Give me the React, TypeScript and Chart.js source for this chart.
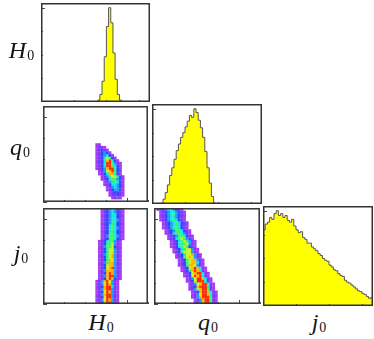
import React, { useEffect, useRef } from "react";
import { Chart, registerables } from "chart.js";

Chart.register(...registerables);

// ---------- data ----------
// 1D histograms (50 bins across each axis), counts relative to peak = 100
const H0_HIST = [
  0, 0, 0, 0, 0, 0, 0, 0, 0, 0, 0, 0, 0, 0, 0, 0, 0, 0, 0, 0, 0, 0, 0, 0, 0, 0,
  2, 8, 22, 48, 80, 100, 84, 52, 24, 8, 2,
  0, 0, 0, 0, 0, 0, 0, 0, 0, 0, 0, 0, 0,
];
const Q0_HIST = [
  0, 0, 0, 0,
  1, 5, 12, 20, 30, 38, 47, 56, 63, 70, 75, 81, 87, 93, 91, 100, 96, 88, 80, 70, 55, 38, 22, 8, 1,
  0, 0, 0, 0, 0, 0, 0, 0, 0, 0, 0, 0, 0, 0, 0, 0, 0, 0, 0, 0, 0,
];
const J0_HIST = [
  80, 86, 88, 93, 91, 97, 100, 95, 97, 93, 95, 90, 88, 91, 84, 80, 77, 78, 72, 70,
  66, 66, 62, 60, 58, 55, 53, 50, 48, 47, 43, 41, 38, 37, 34, 32, 31, 27, 25, 24,
  22, 20, 18, 16, 15, 13, 12, 10, 8, 9,
];

// colour levels of the 2D histograms (low -> high density)
const LEVEL_COLORS = [
  "#a23cf5", "#7838ff", "#3046ff", "#1a9cff", "#18e6e0",
  "#3cf56a", "#c8f51e", "#ffb400", "#ff2a00",
];

// 2D histograms on a 40 x 36 cell grid: [row (top -> bottom), first column, level per cell]
const Q0_VS_H0: [number, number, string][] = [
  [14, 20, "11"],
  [15, 20, "1221"],
  [16, 20, "12321"],
  [17, 20, "123431"],
  [18, 20, "1234531"],
  [19, 20, "12357631"],
  [20, 20, "123589531"],
  [21, 20, "1235996421"],
  [22, 20, "1235996531"],
  [23, 20, "1234899631"],
  [24, 21, "124789631"],
  [25, 21, "123588631"],
  [26, 22, "124677531"],
  [27, 22, "123566421"],
  [28, 23, "12456531"],
  [29, 23, "12355431"],
  [30, 24, "1245431"],
  [31, 24, "1234421"],
  [32, 25, "123321"],
  [33, 25, "122321"],
  [34, 26, "1211"],
];

const J0_VS_H0: [number, number, string][] = [
  [0, 22, "123454321"],
  [1, 22, "123454321"],
  [2, 22, "123455321"],
  [3, 22, "123455321"],
  [4, 22, "123455421"],
  [5, 22, "123465321"],
  [6, 22, "123565321"],
  [7, 22, "123565421"],
  [8, 22, "123565321"],
  [9, 22, "123665321"],
  [10, 22, "124665421"],
  [11, 22, "123666321"],
  [12, 21, "123566421"],
  [13, 21, "123667421"],
  [14, 21, "124667321"],
  [15, 21, "123677421"],
  [16, 21, "123577421"],
  [17, 21, "124678421"],
  [18, 21, "123678421"],
  [19, 21, "123687421"],
  [20, 21, "124688421"],
  [21, 21, "123788421"],
  [22, 21, "123789421"],
  [23, 21, "124888421"],
  [24, 21, "123898421"],
  [25, 21, "124899421"],
  [26, 21, "123898321"],
  [27, 20, "124897421"],
  [28, 20, "124798421"],
  [29, 20, "123899521"],
  [30, 20, "124899421"],
  [31, 20, "123798421"],
  [32, 20, "124899421"],
  [33, 20, "123799421"],
  [34, 20, "124798421"],
  [35, 20, "123899421"],
];

const J0_VS_Q0: [number, number, string][] = [
  [0, 1, "1234554321"],
  [1, 2, "1234554321"],
  [2, 2, "1234564321"],
  [3, 2, "1234554321"],
  [4, 2, "1234565321"],
  [5, 3, "1234565321"],
  [6, 3, "1234565321"],
  [7, 3, "1234665321"],
  [8, 4, "1234665321"],
  [9, 4, "1235665421"],
  [10, 5, "1234666321"],
  [11, 5, "1235676421"],
  [12, 6, "1235676421"],
  [13, 6, "1235667421"],
  [14, 6, "1235676321"],
  [15, 7, "1235677421"],
  [16, 7, "1236777421"],
  [17, 8, "1235778421"],
  [18, 8, "1236787421"],
  [19, 9, "1236788421"],
  [20, 9, "1236788521"],
  [21, 9, "1236887421"],
  [22, 10, "1237898521"],
  [23, 10, "1236898521"],
  [24, 11, "1237899521"],
  [25, 11, "1237989521"],
  [26, 12, "1247998521"],
  [27, 12, "1237999521"],
  [28, 13, "1247899621"],
  [29, 13, "1238999521"],
  [30, 13, "1247899621"],
  [31, 14, "1238998521"],
  [32, 14, "1247998521"],
  [33, 14, "1248999621"],
  [34, 15, "124899621"],
  [35, 15, "124899521"],
];

const GRID_COLS = 40;
const GRID_ROWS = 36;

// ---------- frame + inward ticks (ROOT style) ----------
const framePlugin = {
  id: "rootFrame",
  afterDraw(chart: any) {
    const { ctx, chartArea: a } = chart;
    const xs = chart.scales.x;
    const ys = chart.scales.y;
    ctx.save();
    ctx.strokeStyle = "#4a4a4a";
    ctx.lineWidth = 1;
    ctx.beginPath();
    (xs.ticks || []).forEach((t: any, i: number) => {
      const px = Math.round(xs.getPixelForValue(t.value)) + 0.5;
      const len = i % 4 === 0 ? 4 : 2;
      ctx.moveTo(px, a.bottom);
      ctx.lineTo(px, a.bottom - len);
    });
    (ys.ticks || []).forEach((t: any, i: number) => {
      const py = Math.round(ys.getPixelForValue(t.value)) + 0.5;
      const len = i % 4 === 0 ? 4 : 2;
      ctx.moveTo(a.left, py);
      ctx.lineTo(a.left + len, py);
    });
    ctx.stroke();
    ctx.lineWidth = 1.5;
    ctx.strokeStyle = "#333";
    ctx.strokeRect(a.left + 0.75, a.top + 0.75, a.right - a.left - 1.5, a.bottom - a.top - 1.5);
    ctx.restore();
  },
};

type Box = { left: number; top: number; width: number; height: number };

function Hist1D({ values, left, top, width, height }: Box & { values: number[] }) {
  const ref = useRef<HTMLCanvasElement>(null);
  useEffect(() => {
    const pts = values.map((v, i) => ({ x: i, y: v }));
    pts.push({ x: values.length, y: values[values.length - 1] });
    const chart = new Chart(ref.current!, {
      type: "line",
      data: {
        datasets: [
          {
            data: pts,
            stepped: "before",
            fill: "origin",
            backgroundColor: "#ffff00",
            borderColor: "#555555",
            borderWidth: 1,
            pointRadius: 0,
          } as any,
        ],
      },
      options: {
        animation: false,
        responsive: false,
        events: [],
        layout: { padding: 0 },
        plugins: { legend: { display: false }, tooltip: { enabled: false } },
        scales: {
          x: { type: "linear", display: false, min: 0, max: values.length, ticks: { stepSize: 2.5 } },
          y: { type: "linear", display: false, min: 0, max: 105, ticks: { stepSize: 5 } },
        },
      },
      plugins: [framePlugin],
    });
    return () => chart.destroy();
  }, []);
  return (
    <canvas ref={ref} width={width} height={height} style={{ position: "absolute", left, top, width, height }} />
  );
}

function Hist2D({ rows, left, top, width, height }: Box & { rows: [number, number, string][] }) {
  const ref = useRef<HTMLCanvasElement>(null);
  useEffect(() => {
    const datasets = LEVEL_COLORS.map((c) => ({
      data: [] as { x: number; y: number }[],
      backgroundColor: c,
      pointStyle: "rect",
      pointRadius: 2.05,
      pointHoverRadius: 2.05,
      borderWidth: 0,
    }));
    rows.forEach(([r, c0, s]) => {
      for (let k = 0; k < s.length; k++) {
        const lv = Number(s[k]);
        if (lv > 0) datasets[lv - 1].data.push({ x: c0 + k + 0.5, y: r + 0.5 });
      }
    });
    const chart = new Chart(ref.current!, {
      type: "scatter",
      data: { datasets: datasets as any },
      options: {
        animation: false,
        responsive: false,
        events: [],
        layout: { padding: 0 },
        plugins: { legend: { display: false }, tooltip: { enabled: false } },
        scales: {
          x: { type: "linear", display: false, min: 0, max: GRID_COLS, ticks: { stepSize: 2 } },
          y: { type: "linear", display: false, reverse: true, min: 0, max: GRID_ROWS, ticks: { stepSize: 2 } },
        },
      },
      plugins: [framePlugin],
    });
    return () => chart.destroy();
  }, []);
  return (
    <canvas ref={ref} width={width} height={height} style={{ position: "absolute", left, top, width, height }} />
  );
}

const labelFont = '"Liberation Serif", "DejaVu Serif", serif';

function VarLabel({ sym, style }: { sym: string; style: React.CSSProperties }) {
  return (
    <div
      style={{
        position: "absolute",
        fontFamily: labelFont,
        fontSize: 24,
        lineHeight: "24px",
        fontStyle: "italic",
        color: "#151515",
        whiteSpace: "nowrap",
        ...style,
      }}
    >
      {sym}
      <span style={{ fontStyle: "normal", fontSize: 14, position: "relative", top: 2, marginLeft: 1 }}>0</span>
    </div>
  );
}

export default function App() {
  return (
    <div
      style={{
        position: "fixed",
        left: 0,
        top: 0,
        width: 374,
        height: 339,
        background: "#ffffff",
        overflow: "hidden",
      }}
    >
      <Hist1D values={H0_HIST} left={41} top={3} width={109} height={99} />
      <Hist2D rows={Q0_VS_H0} left={41} top={104} width={109} height={100} />
      <Hist1D values={Q0_HIST} left={152} top={104} width={110} height={100} />
      <Hist2D rows={J0_VS_H0} left={41} top={206} width={109} height={100} />
      <Hist2D rows={J0_VS_Q0} left={152} top={206} width={110} height={100} />
      <Hist1D values={J0_HIST} left={263} top={206} width={110} height={100} />

      <VarLabel sym="H" style={{ left: 0, width: 43, textAlign: "center", top: 38 }} />
      <VarLabel sym="q" style={{ left: 0, width: 40, textAlign: "center", top: 135 }} />
      <VarLabel sym="j" style={{ left: 0, width: 42, textAlign: "center", top: 241 }} />

      <VarLabel sym="H" style={{ left: 61, width: 80, textAlign: "center", top: 310 }} />
      <VarLabel sym="q" style={{ left: 168, width: 80, textAlign: "center", top: 310 }} />
      <VarLabel sym="j" style={{ left: 279, width: 80, textAlign: "center", top: 310 }} />
    </div>
  );
}
